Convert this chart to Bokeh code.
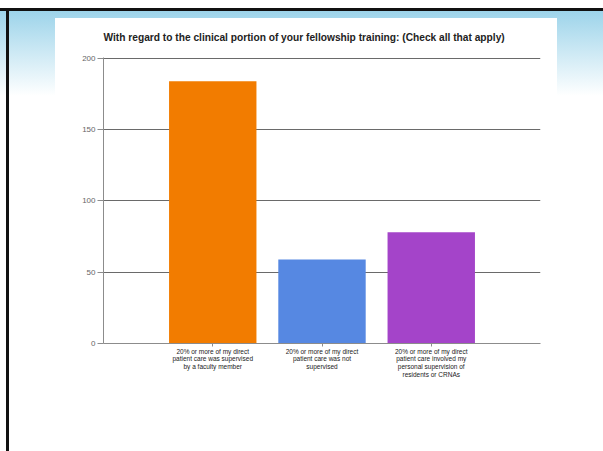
from bokeh.plotting import figure
from bokeh.models import FixedTicker, Range1d, ColumnDataSource
from bokeh.embed import file_html
from bokeh.resources import INLINE

title = "With regard to the clinical portion of your fellowship training: (Check all that apply)"
categories = [
    "20% or more of my direct\npatient care was supervised\nby a faculty member",
    "20% or more of my direct\npatient care was not\nsupervised",
    "20% or more of my direct\npatient care involved my\npersonal supervision of\nresidents or CRNAs",
]
positions = [1, 2, 3]
values = [184, 59, 78]
colors = ["#F27C00", "#5688E2", "#A444C9"]
y_ticks = [0, 50, 100, 150, 200]

W, H = 603, 451
p = figure(width=W, height=H, output_backend="svg", toolbar_location=None,
           x_range=Range1d(0, 4), y_range=Range1d(0, 200.7),
           min_border_left=103, min_border_right=63, min_border_top=57, min_border_bottom=108)
p.outline_line_color = None
p.background_fill_color = None
p.border_fill_color = None

# slide-like backdrop (black top/left border, light-blue band, white panel) via CSS
p.styles = {
    "background": (
        "linear-gradient(#111111,#111111) 0px 8px / 603px 3px no-repeat, "
        "linear-gradient(#111111,#111111) 6px 8px / 3px 443px no-repeat, "
        "linear-gradient(#ffffff,#ffffff) 55px 18px / 502px 433px no-repeat, "
        "linear-gradient(to bottom, #ffffff 0px, #ffffff 10px, #9dd4ea 11px, #ffffff 96px, #ffffff 451px)"
    )
}

p.title.text = title
p.title.align = "left"
p.title.offset = 0
p.title.standoff = 30
p.title.text_font = "Liberation Sans"
p.title.text_font_size = "10.2px"
p.title.text_font_style = "bold"
p.title.text_color = "#222222"

src = ColumnDataSource(dict(x=positions, v=values, c=colors))
p.vbar(x="x", top="v", width=0.8, fill_color="c", line_color=None, source=src)

p.xgrid.visible = False
p.ygrid.ticker = FixedTicker(ticks=y_ticks[1:])
p.ygrid.grid_line_color = "#6a6a6a"
p.ygrid.grid_line_width = 1

p.yaxis.ticker = FixedTicker(ticks=y_ticks)
p.yaxis.minor_tick_line_color = None
p.yaxis.major_tick_out = 6
p.yaxis.major_tick_in = 0
p.yaxis.major_label_standoff = 2
p.yaxis.major_label_text_font = "Liberation Sans"
p.yaxis.major_label_text_font_size = "8px"
p.yaxis.major_label_text_color = "#666666"
p.yaxis.axis_line_color = "#8c8c8c"
p.yaxis.major_tick_line_color = "#8c8c8c"

p.xaxis.ticker = FixedTicker(ticks=positions)
p.xaxis.major_label_overrides = {pos: lab for pos, lab in zip(positions, categories)}
p.xaxis.minor_tick_line_color = None
p.xaxis.major_tick_out = 3
p.xaxis.major_tick_in = 0
p.xaxis.major_label_standoff = 1
p.xaxis.major_label_text_font = "Liberation Sans"
p.xaxis.major_label_text_font_size = "6.5px"
p.xaxis.major_label_text_line_height = 1.12
p.xaxis.major_label_text_color = "#222222"
p.xaxis.axis_line_color = "#8c8c8c"
p.xaxis.major_tick_line_color = "#8c8c8c"

open("out.html", "w").write(file_html(p, INLINE))
